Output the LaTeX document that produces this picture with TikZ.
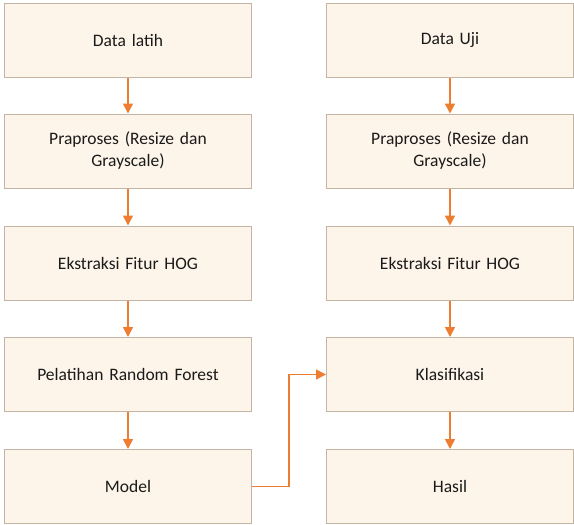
\documentclass[tikz,border=0pt]{standalone}
\usepackage{fontspec}
\setmainfont{Carlito}
\usetikzlibrary{arrows.meta}
\definecolor{boxfill}{HTML}{FEF5EA}
\definecolor{boxline}{HTML}{C4B4A4}
\definecolor{arr}{HTML}{ED7D31}
\definecolor{txt}{HTML}{1A1A1A}
\tikzset{
  stepbox/.style={draw=boxline, line width=1pt, fill=boxfill, minimum width=247pt, minimum height=74pt, align=center, text width=230pt, text=txt, font=\fontsize{17.5}{22}\selectfont, inner sep=0pt},
  conn/.style={draw=arr, line width=1.5pt, -{Triangle[length=10pt,width=10pt]}}
}
\begin{document}
\begin{tikzpicture}[x=1pt,y=-1pt]
\useasboundingbox (0,0) rectangle (574,525);
\node[stepbox] (l1) at (128,40) {Data latih};
\node[stepbox] (l2) at (128,151) {Praproses (Resize dan\\Grayscale)};
\node[stepbox] (l3) at (128,263) {Ekstraksi Fitur HOG};
\node[stepbox] (l4) at (128,374.5) {Pelatihan Random Forest};
\node[stepbox] (l5) at (128,486.5) {Model};
\node[stepbox] (r1) at (450,40) {Data Uji};
\node[stepbox] (r2) at (450,151) {Praproses (Resize dan\\Grayscale)};
\node[stepbox] (r3) at (450,263) {Ekstraksi Fitur HOG};
\node[stepbox] (r4) at (450,374.5) {Klasifikasi};
\node[stepbox] (r5) at (450,486.5) {Hasil};
\foreach \a/\b in {l1/l2,l2/l3,l3/l4,l4/l5,r1/r2,r2/r3,r3/r4,r4/r5}
  \draw[conn] (\a.south) -- (\b.north);
\coordinate (bend) at (289,486.5);
\draw[conn] (l5.east) -- (bend) |- (r4.west);
\end{tikzpicture}
\end{document}
